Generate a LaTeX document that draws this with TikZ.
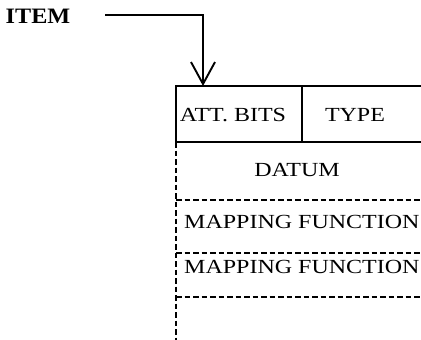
\documentclass[tikz,border=0pt]{standalone}
\usepackage{fontspec}
\setmainfont{Liberation Serif}
\usetikzlibrary{arrows.meta}
\tikzset{
  lbl/.style={inner sep=0pt, font=\fontsize{20}{22}\selectfont\addfontfeature{FakeStretch=1.2}},
  solidline/.style={line width=1.9pt},
  dashline/.style={line width=1.7pt, dash pattern=on 5.5pt off 3pt},
}
\begin{document}
\begin{tikzpicture}[x=1pt,y=-1pt]
\useasboundingbox (0,0) rectangle (421,340);
\clip (0,0) rectangle (421,340);
% labels
\node[inner sep=0pt, font=\fontsize{22}{24}\selectfont\bfseries\addfontfeature{FakeStretch=1.1}] (item) at (38,16) {ITEM};
\node[lbl] (att) at (233,115) {ATT. BITS};
\node[lbl] (type) at (355,115) {TYPE};
\node[lbl] (datum) at (297,170) {DATUM};
\node[lbl, anchor=west] (map1) at (184,222) {MAPPING FUNCTION};
\node[lbl, anchor=west] (map2) at (184,267) {MAPPING FUNCTION};
% box
\coordinate (tl) at (176,86);
\coordinate (start) at (105,15);
\coordinate (tip) at (203,86);
\draw[solidline] (176,142) -- (tl) -- (425,86);
\draw[solidline] (302,86) -- (302,142);
\draw[solidline] (176,142) -- (425,142);
\draw[dashline] (176,142) -- (176,340);
\draw[dashline] (176,200) -- (425,200);
\draw[dashline] (176,253) -- (425,253);
\draw[dashline] (176,297) -- (425,297);
% connector
\draw[solidline, -{Straight Barb[length=22pt,width=24pt,line width=1.9pt]}] (start) -| (tip);
\end{tikzpicture}
\end{document}
